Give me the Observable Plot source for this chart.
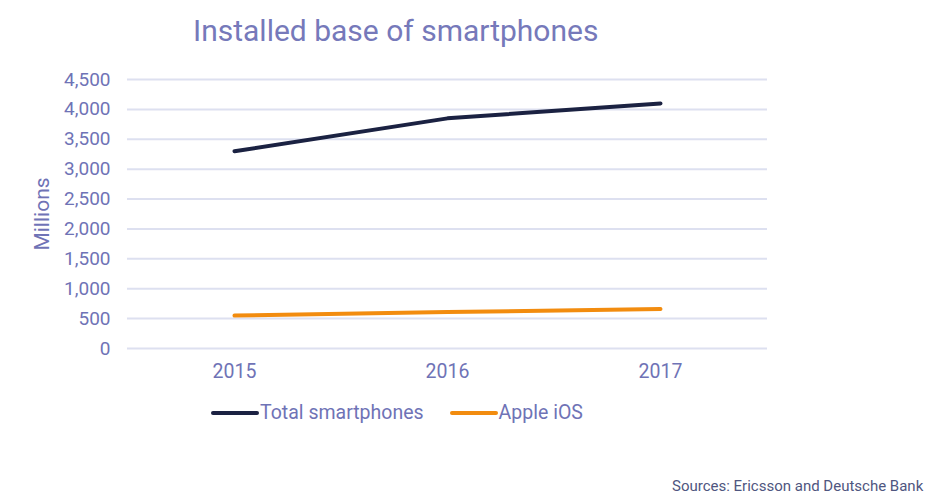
<!DOCTYPE html>
<html>
<head>
<meta charset="utf-8">
<script src="https://cdn.jsdelivr.net/npm/d3@7"></script>
<script src="https://cdn.jsdelivr.net/npm/@observablehq/plot@0.6"></script>
<style>
  body { margin: 0; background: #fff; font-family: Roboto, "Open Sans", sans-serif; }
  #wrap { position: relative; width: 941px; height: 497px; overflow: hidden; }
  #title { position: absolute; left: 193px; top: 13px; font-size: 30px; color: #7679ba; font-weight: 400; white-space: nowrap; }
  #legend { position: absolute; left: 211px; top: 401px; font-size: 19.5px; color: #6f73b6; display: flex; align-items: center; white-space: nowrap; }
  #legend .sw { display: inline-block; width: 48px; height: 4px; border-radius: 2px; margin-right: 1px; }
  #legend .item { display: flex; align-items: center; margin-right: 26px; }
  #source { position: absolute; left: 672px; top: 477px; font-size: 15px; color: #4f5680; white-space: nowrap; }
  #chart { position: absolute; left: 0; top: 0; }
</style>
</head>
<body>
<div id="wrap">
  <div id="chart"></div>
  <div id="title">Installed base of smartphones</div>
  <div id="legend"></div>
  <div id="source">Sources: Ericsson and Deutsche Bank</div>
</div>
<script>
const years = ["2015", "2016", "2017"];
const totalSmartphones = [3300, 3850, 4100];
const appleIOS = [550, 610, 660];
const yTicks = [0, 500, 1000, 1500, 2000, 2500, 3000, 3500, 4000, 4500];
const seriesNames = ["Total smartphones", "Apple iOS"];
const seriesColors = ["#1b2242", "#f28c0f"];

const data = [
  ...years.map((y, i) => ({year: y, value: totalSmartphones[i], series: seriesNames[0]})),
  ...years.map((y, i) => ({year: y, value: appleIOS[i], series: seriesNames[1]}))
];

const textColor = "#6f73b6";

const chart = Plot.plot({
  width: 941,
  height: 497,
  marginTop: 79,
  marginBottom: 149,
  marginLeft: 127,
  marginRight: 174,
  style: { fontFamily: "Roboto, sans-serif", fontSize: "19px", color: textColor, background: "transparent" },
  x: { type: "point", domain: years, padding: 0.5 },
  y: { domain: [0, 4500] },
  color: { domain: seriesNames, range: seriesColors },
  marks: [
    Plot.ruleY(yTicks, { stroke: "#dde0f0", strokeWidth: 2 }),
    Plot.axisY({ ticks: yTicks, tickSize: 0, tickPadding: 17, tickFormat: d3.format(","), label: null, fill: textColor, fontSize: 19 }),
    Plot.axisX({ tickSize: 0, tickPadding: 16, label: null, fill: textColor, fontSize: 19.5 }),
    Plot.text(["Millions"], { frameAnchor: "left", textAnchor: "middle", dx: -85, rotate: -90, fontSize: 21, fill: textColor }),
    Plot.line(data, { x: "year", y: "value", z: "series", stroke: "series", strokeWidth: 4, strokeLinecap: "round", strokeLinejoin: "round" })
  ]
});
document.getElementById("chart").appendChild(chart);

const legend = document.getElementById("legend");
seriesNames.forEach((name, i) => {
  const item = document.createElement("div");
  item.className = "item";
  const sw = document.createElement("span");
  sw.className = "sw";
  sw.style.background = seriesColors[i];
  const label = document.createElement("span");
  label.textContent = name;
  item.appendChild(sw);
  item.appendChild(label);
  legend.appendChild(item);
});
</script>
</body>
</html>
